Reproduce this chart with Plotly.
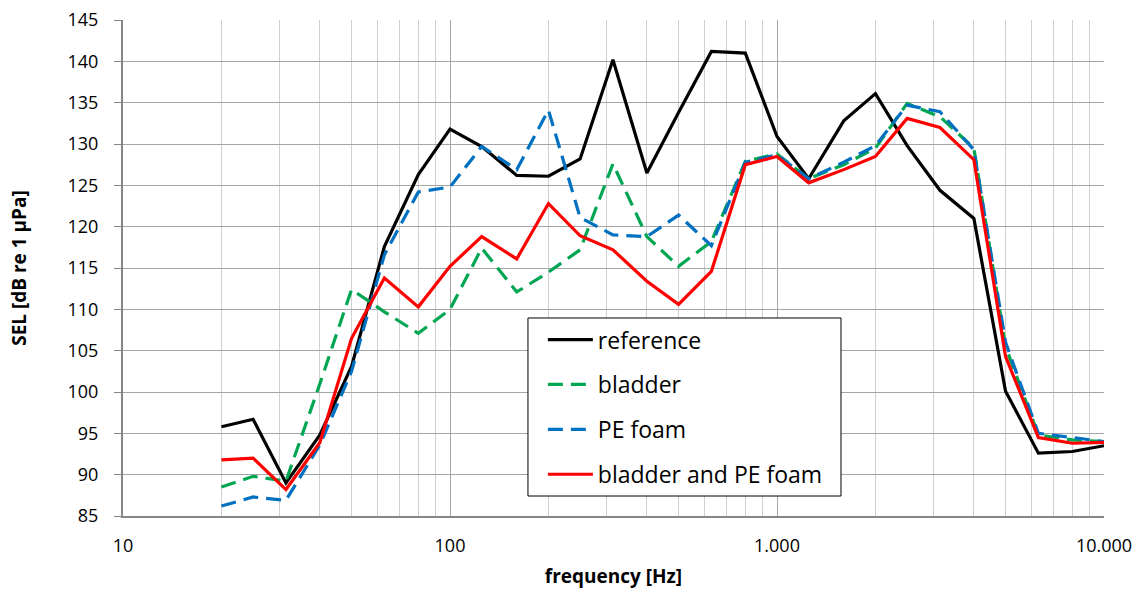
import plotly.graph_objects as go

freq = [20, 25, 31.5, 40, 50, 63, 80, 100, 125, 160, 200, 250, 315, 400, 500, 630,
        800, 1000, 1250, 1600, 2000, 2500, 3150, 4000, 5000, 6300, 8000, 10000]

reference = [95.8, 96.7, 89.0, 94.8, 103.1, 117.6, 126.3, 131.8, 129.7, 126.2, 126.1, 128.2,
             140.2, 126.5, 133.8, 141.2, 141.0, 130.9, 125.8, 132.8, 136.1, 129.8, 124.4,
             121.0, 100.1, 92.6, 92.8, 93.5]
bladder = [88.5, 89.8, 89.2, 101.0, 112.4, 109.7, 107.1, 110.0, 117.4, 112.1, 114.5, 117.2,
           127.6, 118.8, 115.2, 118.2, 127.9, 128.8, 125.8, 127.5, 129.5, 134.9, 133.3,
           129.5, 105.5, 94.8, 94.2, 94.0]
pe_foam = [86.2, 87.3, 86.9, 93.6, 102.5, 116.6, 124.2, 124.8, 129.7, 126.9, 134.1, 121.1,
           119.0, 118.8, 121.4, 117.7, 127.8, 128.7, 125.8, 127.8, 129.8, 134.7, 133.9,
           129.3, 106.0, 95.0, 94.5, 94.0]
bladder_pe = [91.8, 92.0, 88.2, 93.9, 106.5, 113.8, 110.3, 115.2, 118.8, 116.1, 122.8, 118.9,
              117.2, 113.4, 110.6, 114.6, 127.5, 128.5, 125.3, 126.9, 128.5, 133.1, 132.0,
              128.1, 104.3, 94.5, 93.8, 93.9]

series_names = ["reference", "bladder", "PE foam", "bladder and PE foam"]
series_colors = ["#000000", "#00A651", "#0070C0", "#FF0000"]
series_dash = ["solid", "15px,8px", "15px,8px", "solid"]

x_tickvals = [10, 100, 1000, 10000]
x_ticktext = ["10", "100", "1.000", "10.000"]
y_tickvals = list(range(85, 146, 5))

FONT = "Open Sans, sans-serif"

fig = go.Figure()
for i, (name, vals) in enumerate(zip(series_names, [reference, bladder, pe_foam, bladder_pe])):
    fig.add_trace(go.Scatter(
        x=freq, y=vals, name=name, mode="lines",
        line=dict(color=series_colors[i], width=3.2, dash=series_dash[i]),
        legendgroup=f"g{i}",
    ))

# legend frame (drawn as a shape so its padding matches the reference)
fig.add_shape(type="rect", xref="x domain", yref="y domain",
              x0=0.4128, x1=0.7319, y0=0.0403, y1=0.3992,
              line=dict(color="#000000", width=1), fillcolor="white", layer="above")

fig.update_layout(
    width=1138, height=593,
    margin=dict(l=123, r=34, t=20, b=77),
    paper_bgcolor="white", plot_bgcolor="white",
    font=dict(family=FONT, size=18, color="#000000"),
    showlegend=True,
    legend=dict(
        x=0.428, y=0.399, xanchor="left", yanchor="top",
        bgcolor="rgba(0,0,0,0)", borderwidth=0,
        font=dict(family=FONT, size=23, color="#000000"),
        tracegroupgap=12, itemwidth=45,
    ),
    xaxis=dict(
        type="log", range=[1, 4], automargin=False,
        tickvals=x_tickvals, ticktext=x_ticktext, ticklabeloverflow="allow",
        showgrid=True, gridcolor="#A6A6A6", gridwidth=1,
        minor=dict(dtick="D1", showgrid=True, gridcolor="#D0D0D0", gridwidth=1, ticks=""),
        showline=True, linecolor="#868686", linewidth=2,
        ticks="", tickfont=dict(size=18), ticklabelstandoff=12,
        title=dict(text="<b>frequency [Hz]</b>", font=dict(size=19), standoff=14),
        zeroline=False,
    ),
    yaxis=dict(
        range=[85, 145], tickvals=y_tickvals, automargin=False, ticklabeloverflow="allow",
        showgrid=True, gridcolor="#A6A6A6", gridwidth=1,
        showline=True, linecolor="#868686", linewidth=2,
        ticks="outside", ticklen=7, tickcolor="#868686",
        tickfont=dict(size=18), ticklabelstandoff=12,
        title=dict(text="<b>SEL [dB re 1 µPa]</b>", font=dict(size=19), standoff=36),
        zeroline=False,
    ),
)

fig.write_html(
    "out.html",
    config={"displayModeBar": False},
    post_script="document.body.style.margin='0';document.body.style.overflow='hidden';",
)
